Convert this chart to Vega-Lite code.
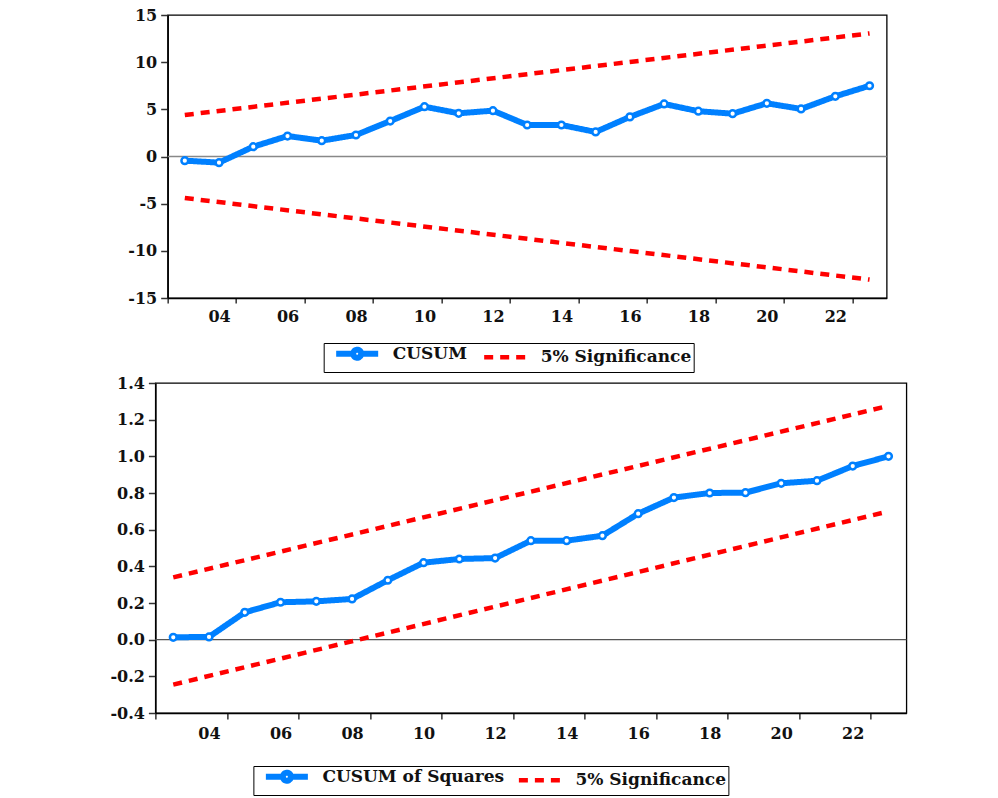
{
  "$schema": "https://vega.github.io/schema/vega-lite/v6.json",
  "padding": {"left": 96, "top": 6, "right": 5, "bottom": 0},
  "background": "white",
  "spacing": 0,
  "center": true,
  "resolve": {
    "scale": {"color": "independent", "strokeDash": "independent", "strokeWidth": "independent"},
    "legend": {"color": "independent", "strokeDash": "independent"}
  },
  "config": {
    "view": {"stroke": "#000", "strokeWidth": 1.3},
    "font": "DejaVu Serif",
    "axis": {"labelFont": "DejaVu Serif", "labelFontSize": 16, "labelFontWeight": "bold", "labelColor": "#111", "domainColor": "#000", "domainWidth": 1.5, "tickColor": "#333", "tickWidth": 1.5, "grid": false, "title": null, "labelOverlap": false},
    "legend": {"labelLimit": 400}
  },
  "datasets": {
    "cusum": [
      {"year": 2003, "value": -0.44, "series": "CUSUM", "line": "c"},
      {"year": 2004, "value": -0.65, "series": "CUSUM", "line": "c"},
      {"year": 2005, "value": 1.04, "series": "CUSUM", "line": "c"},
      {"year": 2006, "value": 2.17, "series": "CUSUM", "line": "c"},
      {"year": 2007, "value": 1.68, "series": "CUSUM", "line": "c"},
      {"year": 2008, "value": 2.28, "series": "CUSUM", "line": "c"},
      {"year": 2009, "value": 3.76, "series": "CUSUM", "line": "c"},
      {"year": 2010, "value": 5.28, "series": "CUSUM", "line": "c"},
      {"year": 2011, "value": 4.58, "series": "CUSUM", "line": "c"},
      {"year": 2012, "value": 4.86, "series": "CUSUM", "line": "c"},
      {"year": 2013, "value": 3.34, "series": "CUSUM", "line": "c"},
      {"year": 2014, "value": 3.34, "series": "CUSUM", "line": "c"},
      {"year": 2015, "value": 2.6, "series": "CUSUM", "line": "c"},
      {"year": 2016, "value": 4.2, "series": "CUSUM", "line": "c"},
      {"year": 2017, "value": 5.57, "series": "CUSUM", "line": "c"},
      {"year": 2018, "value": 4.8, "series": "CUSUM", "line": "c"},
      {"year": 2019, "value": 4.54, "series": "CUSUM", "line": "c"},
      {"year": 2020, "value": 5.64, "series": "CUSUM", "line": "c"},
      {"year": 2021, "value": 5.04, "series": "CUSUM", "line": "c"},
      {"year": 2022, "value": 6.38, "series": "CUSUM", "line": "c"},
      {"year": 2023, "value": 7.5, "series": "CUSUM", "line": "c"},
      {"year": 2003, "value": 4.4, "series": "5% Significance", "line": "upper"},
      {"year": 2023, "value": 13.05, "series": "5% Significance", "line": "upper"},
      {"year": 2003, "value": -4.4, "series": "5% Significance", "line": "lower"},
      {"year": 2023, "value": -13.05, "series": "5% Significance", "line": "lower"}
    ],
    "cusumsq": [
      {"year": 2003, "value": 0.013, "series": "CUSUM of Squares", "line": "c"},
      {"year": 2004, "value": 0.015, "series": "CUSUM of Squares", "line": "c"},
      {"year": 2005, "value": 0.149, "series": "CUSUM of Squares", "line": "c"},
      {"year": 2006, "value": 0.204, "series": "CUSUM of Squares", "line": "c"},
      {"year": 2007, "value": 0.209, "series": "CUSUM of Squares", "line": "c"},
      {"year": 2008, "value": 0.222, "series": "CUSUM of Squares", "line": "c"},
      {"year": 2009, "value": 0.324, "series": "CUSUM of Squares", "line": "c"},
      {"year": 2010, "value": 0.42, "series": "CUSUM of Squares", "line": "c"},
      {"year": 2011, "value": 0.44, "series": "CUSUM of Squares", "line": "c"},
      {"year": 2012, "value": 0.445, "series": "CUSUM of Squares", "line": "c"},
      {"year": 2013, "value": 0.54, "series": "CUSUM of Squares", "line": "c"},
      {"year": 2014, "value": 0.54, "series": "CUSUM of Squares", "line": "c"},
      {"year": 2015, "value": 0.567, "series": "CUSUM of Squares", "line": "c"},
      {"year": 2016, "value": 0.687, "series": "CUSUM of Squares", "line": "c"},
      {"year": 2017, "value": 0.775, "series": "CUSUM of Squares", "line": "c"},
      {"year": 2018, "value": 0.8, "series": "CUSUM of Squares", "line": "c"},
      {"year": 2019, "value": 0.802, "series": "CUSUM of Squares", "line": "c"},
      {"year": 2020, "value": 0.853, "series": "CUSUM of Squares", "line": "c"},
      {"year": 2021, "value": 0.867, "series": "CUSUM of Squares", "line": "c"},
      {"year": 2022, "value": 0.947, "series": "CUSUM of Squares", "line": "c"},
      {"year": 2023, "value": 1.0, "series": "CUSUM of Squares", "line": "c"},
      {"year": 2003, "value": 0.34, "series": "5% Significance", "line": "upper"},
      {"year": 2023, "value": 1.275, "series": "5% Significance", "line": "upper"},
      {"year": 2003, "value": -0.245, "series": "5% Significance", "line": "lower"},
      {"year": 2023, "value": 0.7, "series": "5% Significance", "line": "lower"}
    ]
  },
  "vconcat": [
    {
      "width": 719,
      "height": 283,
      "data": {"name": "cusum"},
      "resolve": {"scale": {"y": "independent"}, "axis": {"y": "independent"}},
      "layer": [
        {
          "data": {"values": [{}]},
          "mark": {"type": "rule", "color": "#888", "strokeWidth": 1.5},
          "encoding": {"y": {"datum": 0, "type": "quantitative",
              "scale": {"domain": [-15, 15], "nice": false},
              "axis": {"orient": "right", "labels": false, "ticks": false, "domain": false, "minExtent": 8, "maxExtent": 8}}}
        },
        {
          "layer": [
            {
              "mark": {"type": "line", "strokeCap": "butt"},
              "encoding": {
                "x": {"field": "year", "type": "quantitative",
                  "scale": {"domain": [2002.5, 2023.5], "nice": false, "zero": false},
                  "axis": {"values": [2002.5, 2003.5, 2004.5, 2005.5, 2006.5, 2007.5, 2008.5, 2009.5, 2010.5, 2011.5, 2012.5, 2013.5, 2014.5, 2015.5, 2016.5, 2017.5, 2018.5, 2019.5, 2020.5, 2021.5, 2022.5, 2023.5],
                    "labelExpr": "((datum.value - 0.5) % 2 == 0 && datum.value > 2003 && datum.value < 2023) ? format(datum.value - 2000.5, '02d') : ''",
                    "labelOffset": -17.1, "tickSize": 5, "labelPadding": 5, "labelFlush": false, "labelBound": false}},
                "y": {"field": "value", "type": "quantitative",
                  "scale": {"domain": [-15, 15], "nice": false},
                  "axis": {"orient": "left", "values": [-15, -10, -5, 0, 5, 10, 15], "labelExpr": "replace(datum.label, '\u2212', '-')", "tickSize": 7, "labelPadding": 4, "minExtent": 58, "maxExtent": 58, "labelOverlap": false}},
                "color": {"field": "series", "type": "nominal",
                  "scale": {"domain": ["CUSUM", "5% Significance"], "range": ["#0080FF", "#FF0000"]},
                  "legend": {"orient": "none", "legendX": 156, "legendY": 328, "direction": "horizontal", "title": null, "strokeColor": "#000", "fillColor": "white", "padding": 2, "symbolSize": 100, "symbolStrokeWidth": 4.5, "symbolFillColor": "white", "symbolOffset": 23, "labelOffset": 27, "columnPadding": 6, "labelFont": "DejaVu Serif", "labelFontSize": 17, "labelFontWeight": "bold", "labelColor": "#111", "labelLimit": 400,
                    "encode": {"symbols": {"update": {"shape": {"signal": "datum.value == 'CUSUM' ? 'M-4.2,0H-0.8M0.8,0H4.2M0.8,0A0.8,0.8 0 1,1 -0.8,0A0.8,0.8 0 1,1 0.8,0' : 'M-4.2,0H4.2'"}, "fill": {"value": "white"}}}}}},
                "strokeDash": {"field": "series", "type": "nominal",
                  "scale": {"domain": ["CUSUM", "5% Significance"], "range": [[1, 0], [9, 7]]},
                  "legend": {"orient": "none", "legendX": 156, "legendY": 328, "direction": "horizontal", "title": null, "strokeColor": "#000", "fillColor": "white", "padding": 2, "symbolSize": 100, "symbolStrokeWidth": 4.5, "symbolFillColor": "white", "symbolOffset": 23, "labelOffset": 27, "columnPadding": 6, "labelFont": "DejaVu Serif", "labelFontSize": 17, "labelFontWeight": "bold", "labelColor": "#111", "labelLimit": 400,
                    "encode": {"symbols": {"update": {"shape": {"signal": "datum.value == 'CUSUM' ? 'M-4.2,0H-0.8M0.8,0H4.2M0.8,0A0.8,0.8 0 1,1 -0.8,0A0.8,0.8 0 1,1 0.8,0' : 'M-4.2,0H4.2'"}, "fill": {"value": "white"}}}}}},
                "strokeWidth": {"field": "series", "type": "nominal",
                  "scale": {"domain": ["CUSUM", "5% Significance"], "range": [6, 4.5]}, "legend": null},
                "detail": {"field": "line"}
              }
            },
            {
              "transform": [{"filter": "datum.series == 'CUSUM'"}],
              "mark": {"type": "point", "shape": "circle", "filled": true, "fill": "white", "stroke": "#0080FF", "strokeWidth": 2.5, "size": 45, "opacity": 1},
              "encoding": {
                "x": {"field": "year", "type": "quantitative"},
                "y": {"field": "value", "type": "quantitative",
                  "axis": {"orient": "left", "values": [-15, -10, -5, 0, 5, 10, 15], "labelExpr": "replace(datum.label, '\u2212', '-')", "tickSize": 7, "labelPadding": 4, "minExtent": 58, "maxExtent": 58, "labelOverlap": false}}
              }
            }
          ]
        }
      ]
    },
    {
      "width": 751,
      "height": 330,
      "data": {"name": "cusumsq"},
      "layer": [
        {
          "data": {"values": [{}]},
          "mark": {"type": "rule", "color": "#555", "strokeWidth": 1.2},
          "encoding": {"y": {"datum": 0, "type": "quantitative",
              "scale": {"domain": [-0.4, 1.4], "nice": false, "zero": false},
              "axis": {"values": [-0.4, -0.2, 0, 0.2, 0.4, 0.6, 0.8, 1.0, 1.2, 1.4], "format": ".1f", "labelExpr": "replace(datum.label, '\u2212', '-')", "tickSize": 7, "labelPadding": 4, "minExtent": 58, "maxExtent": 58, "labelOverlap": false}}}
        },
        {
          "mark": {"type": "line", "strokeCap": "butt"},
          "encoding": {
            "x": {"field": "year", "type": "quantitative",
              "scale": {"domain": [2002.5, 2023.5], "nice": false, "zero": false},
              "axis": {"values": [2002.5, 2003.5, 2004.5, 2005.5, 2006.5, 2007.5, 2008.5, 2009.5, 2010.5, 2011.5, 2012.5, 2013.5, 2014.5, 2015.5, 2016.5, 2017.5, 2018.5, 2019.5, 2020.5, 2021.5, 2022.5, 2023.5],
                "labelExpr": "((datum.value - 0.5) % 2 == 0 && datum.value > 2003 && datum.value < 2023) ? format(datum.value - 2000.5, '02d') : ''",
                "labelOffset": -17.9, "tickSize": 6, "labelPadding": 6, "labelFlush": false, "labelBound": false}},
            "y": {"field": "value", "type": "quantitative",
              "scale": {"domain": [-0.4, 1.4], "nice": false, "zero": false},
              "axis": {"values": [-0.4, -0.2, 0, 0.2, 0.4, 0.6, 0.8, 1.0, 1.2, 1.4], "format": ".1f", "labelExpr": "replace(datum.label, '\u2212', '-')", "tickSize": 7, "labelPadding": 4, "minExtent": 58, "maxExtent": 58, "labelOverlap": false}},
            "color": {"field": "series", "type": "nominal",
              "scale": {"domain": ["CUSUM of Squares", "5% Significance"], "range": ["#0080FF", "#FF0000"]},
              "legend": {"orient": "none", "legendX": 98, "legendY": 383, "direction": "horizontal", "title": null, "strokeColor": "#000", "fillColor": "white", "padding": 2, "symbolSize": 100, "symbolStrokeWidth": 4.5, "symbolFillColor": "white", "symbolOffset": 23, "labelOffset": 27, "columnPadding": 4, "labelFont": "DejaVu Serif", "labelFontSize": 17, "labelFontWeight": "bold", "labelColor": "#111", "labelLimit": 400,
                "encode": {"symbols": {"update": {"shape": {"signal": "datum.value == 'CUSUM of Squares' ? 'M-4.2,0H-0.8M0.8,0H4.2M0.8,0A0.8,0.8 0 1,1 -0.8,0A0.8,0.8 0 1,1 0.8,0' : 'M-4.2,0H4.2'"}, "fill": {"value": "white"}}}}}},
            "strokeDash": {"field": "series", "type": "nominal",
              "scale": {"domain": ["CUSUM of Squares", "5% Significance"], "range": [[1, 0], [9, 7]]},
              "legend": {"orient": "none", "legendX": 98, "legendY": 383, "direction": "horizontal", "title": null, "strokeColor": "#000", "fillColor": "white", "padding": 2, "symbolSize": 100, "symbolStrokeWidth": 4.5, "symbolFillColor": "white", "symbolOffset": 23, "labelOffset": 27, "columnPadding": 4, "labelFont": "DejaVu Serif", "labelFontSize": 17, "labelFontWeight": "bold", "labelColor": "#111", "labelLimit": 400,
                "encode": {"symbols": {"update": {"shape": {"signal": "datum.value == 'CUSUM of Squares' ? 'M-4.2,0H-0.8M0.8,0H4.2M0.8,0A0.8,0.8 0 1,1 -0.8,0A0.8,0.8 0 1,1 0.8,0' : 'M-4.2,0H4.2'"}, "fill": {"value": "white"}}}}}},
            "strokeWidth": {"field": "series", "type": "nominal",
              "scale": {"domain": ["CUSUM of Squares", "5% Significance"], "range": [6, 4.5]}, "legend": null},
            "detail": {"field": "line"}
          }
        },
        {
          "transform": [{"filter": "datum.series == 'CUSUM of Squares'"}],
          "mark": {"type": "point", "shape": "circle", "filled": true, "fill": "white", "stroke": "#0080FF", "strokeWidth": 2.5, "size": 45, "opacity": 1},
          "encoding": {
            "x": {"field": "year", "type": "quantitative"},
            "y": {"field": "value", "type": "quantitative",
              "axis": {"values": [-0.4, -0.2, 0, 0.2, 0.4, 0.6, 0.8, 1.0, 1.2, 1.4], "format": ".1f", "labelExpr": "replace(datum.label, '\u2212', '-')", "tickSize": 7, "labelPadding": 4, "minExtent": 58, "maxExtent": 58, "labelOverlap": false}}
          }
        }
      ]
    }
  ]
}
